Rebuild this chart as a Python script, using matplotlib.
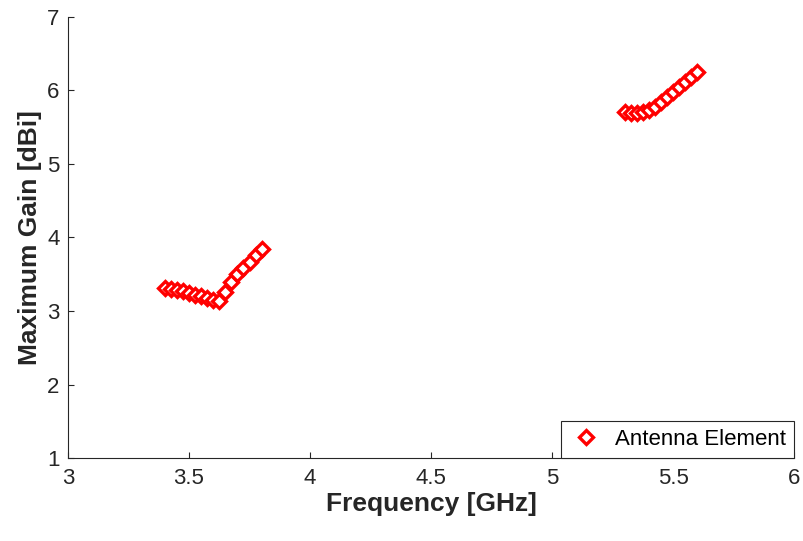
import matplotlib
matplotlib.use("Agg")
import matplotlib.pyplot as plt

plt.rcParams['font.family'] = ['Liberation Sans', 'DejaVu Sans']

freq_low = [3.400, 3.425, 3.450, 3.475, 3.500, 3.525, 3.550, 3.575, 3.600,
            3.625, 3.650, 3.675, 3.700, 3.725, 3.750, 3.775, 3.800]
gain_low = [3.31, 3.30, 3.29, 3.27, 3.25, 3.22, 3.20, 3.18, 3.15,
            3.13, 3.26, 3.39, 3.50, 3.59, 3.67, 3.76, 3.85]
freq_high = [5.300, 5.325, 5.350, 5.375, 5.400, 5.425, 5.450, 5.475, 5.500,
             5.525, 5.550, 5.575, 5.600]
gain_high = [5.71, 5.69, 5.69, 5.71, 5.74, 5.78, 5.84, 5.91, 5.98,
             6.05, 6.12, 6.19, 6.25]

xticks = [3, 3.5, 4, 4.5, 5, 5.5, 6]
xticklabels = ['3', '3.5', '4', '4.5', '5', '5.5', '6']
yticks = [1, 2, 3, 4, 5, 6, 7]

fig = plt.figure(figsize=(8.04, 5.41), dpi=100)
ax = fig.add_axes([0.0846, 0.1534, 0.9030, 0.8152])

mstyle = dict(linestyle='none', marker='D', markersize=7.5,
              markerfacecolor='white', markeredgecolor='red', markeredgewidth=2.4)
ax.plot(freq_low, gain_low, label='Antenna Element', **mstyle)
ax.plot(freq_high, gain_high, **mstyle)

ax.set_xlim(3, 6)
ax.set_ylim(1, 7)
ax.set_xticks(xticks)
ax.set_xticklabels(xticklabels)
ax.set_yticks(yticks)
ax.tick_params(direction='in', labelsize=16, colors='#262626', length=4, width=0.8)
ax.tick_params(axis='x', pad=7)
ax.tick_params(axis='y', pad=6)
ax.spines['top'].set_visible(False)
ax.spines['right'].set_visible(False)
for s in ['left', 'bottom']:
    ax.spines[s].set_color('#262626')
    ax.spines[s].set_linewidth(0.8)

ax.set_xlabel('Frequency [GHz]', fontsize=19, fontweight='bold', color='#262626', labelpad=2)
ax.set_ylabel('Maximum Gain [dBi]', fontsize=19, fontweight='bold', color='#262626', labelpad=4)

leg = ax.legend(loc='lower right', fontsize=16, frameon=True, fancybox=False,
                edgecolor='#262626', borderaxespad=0, handletextpad=0.5,
                handlelength=1.6, borderpad=0.35, framealpha=1)
leg.get_frame().set_linewidth(0.8)

fig.savefig('out.png', dpi=100)
